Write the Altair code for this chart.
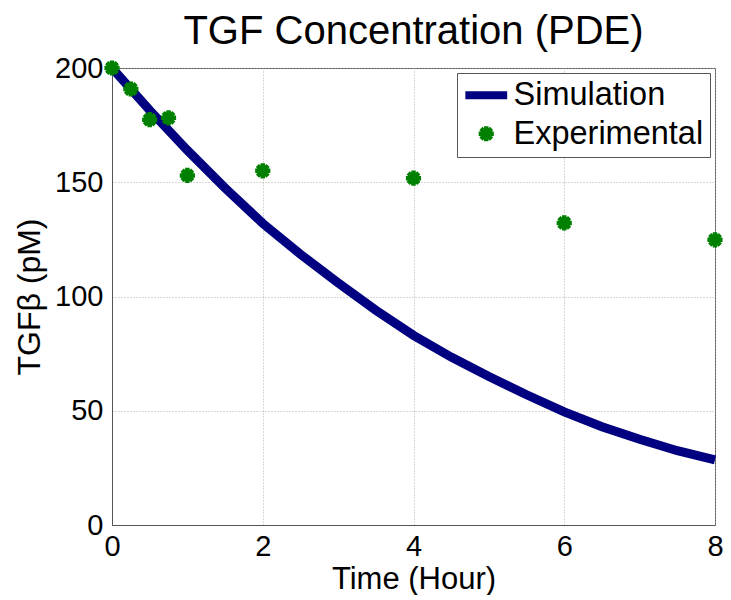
import altair as alt
import pandas as pd

# Simulation curve
sim_time = [0, 0.5, 1, 1.5, 2, 2.5, 3, 3.5, 4, 4.5, 5, 5.5, 6, 6.5, 7, 7.5, 8]
sim_val = [200, 181.5, 164, 147.5, 132, 118.5, 106, 94, 83, 73.5, 65, 57, 49.5, 43, 37.5, 32.5, 28.5]

# Experimental points
exp_time = [0, 0.25, 0.5, 0.75, 1, 2, 4, 6, 8]
exp_val = [200, 190.8, 177.4, 178.2, 153, 155, 151.8, 132.2, 124.8]

series_names = ["Simulation", "Experimental"]
series_colors = ["#000080", "#008000"]

sim_df = pd.DataFrame({"t": sim_time, "v": sim_val, "series": "Simulation"})
exp_df = pd.DataFrame({"t": exp_time, "v": exp_val, "series": "Experimental"})

ASTERISK = "M-1,0L1,0M0,-1L0,1M-0.7,-0.7L0.7,0.7M-0.7,0.7L0.7,-0.7"
FONT = "Liberation Sans"

x_enc = alt.X("t:Q", title="Time (Hour)",
              scale=alt.Scale(domain=[0, 8], nice=False, zero=False),
              axis=alt.Axis(values=[0, 2, 4, 6, 8], format="d"))
y_enc = alt.Y("v:Q", title="TGFβ (pM)",
              scale=alt.Scale(domain=[0, 200], nice=False),
              axis=alt.Axis(values=[0, 50, 100, 150, 200], format="d"))

color_scale = alt.Scale(domain=series_names, range=series_colors)

legend = alt.Legend(
    title=None, orient="top-right", offset=5,
    labelFontSize=32.5, labelFont=FONT, labelColor="black", labelLimit=400,
    strokeColor="#555", fillColor="white", padding=6,
    rowPadding=4.5, labelOffset=11, symbolOffset=7,
    symbolSize=alt.expr("datum.value === 'Simulation' ? 1750 : 230"),
    symbolStrokeWidth=alt.expr("datum.value === 'Simulation' ? 8 : 4.5"),
)

line = alt.Chart(sim_df).mark_line(strokeWidth=9).encode(
    x=x_enc, y=y_enc,
    color=alt.Color("series:N", scale=color_scale, legend=legend),
)

points = alt.Chart(exp_df).mark_point(filled=False, size=230, strokeWidth=4.5, opacity=1).encode(
    x=x_enc, y=y_enc,
    color=alt.Color("series:N", scale=color_scale, legend=legend),
    shape=alt.Shape("series:N", scale=alt.Scale(domain=series_names, range=["stroke", ASTERISK]), legend=legend),
)

chart = alt.layer(line, points).properties(
    width=603, height=457,
    title=alt.TitleParams("TGF Concentration (PDE)", fontSize=40, font=FONT,
                          fontWeight="normal", color="black", offset=-2, anchor="middle"),
    autosize=alt.AutoSizeParams(type="none"),
    padding={"left": 104, "top": 60, "right": 8, "bottom": 70},
).configure_view(
    stroke="#555", strokeWidth=1
).configure_axis(
    labelFont=FONT, labelFontSize=29, labelColor="black", labelFlush=False,
    titleFont=FONT, titleFontSize=31, titleFontWeight="normal", titleColor="black",
    domainColor="#555", grid=True, gridColor="#b0b0b0", gridDash=[1, 2], gridWidth=1,
    ticks=False,
).configure_axisX(
    labelPadding=7, titlePadding=3,
).configure_axisY(
    labelPadding=9, titlePadding=8, titleFontSize=32,
)

chart.save("out.html", embed_options={"renderer": "svg", "actions": False})
